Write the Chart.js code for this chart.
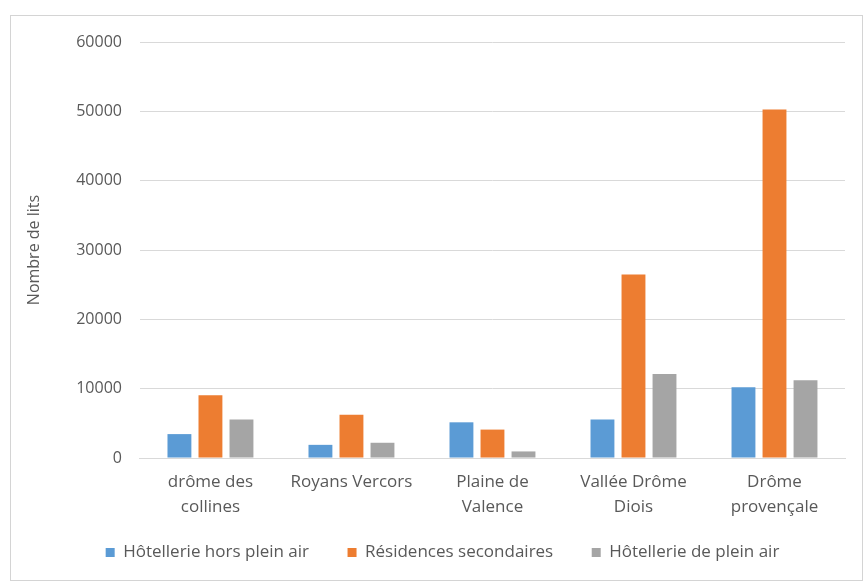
<!DOCTYPE html>
<html lang="fr">
<head>
<meta charset="utf-8">
<title>Nombre de lits touristiques</title>
<script src="https://cdn.jsdelivr.net/npm/chart.js@4/dist/chart.umd.min.js"></script>
<style>
    html, body {
        margin: 0;
        padding: 0;
        background: #ffffff;
        overflow: hidden;
    }
    .frame {
        position: absolute;
        left: 10px;
        top: 15px;
        width: 853px;
        height: 566px;
        box-sizing: border-box;
        border: 1px solid #d4d4d4;
    }
    #litsChart {
        position: absolute;
        left: 0;
        top: 0;
    }
</style>
</head>
<body>
<div class="frame"></div>
<canvas id="litsChart" width="868" height="583"></canvas>
<script>
const territoires = [
    ['drôme des', 'collines'],
    'Royans Vercors',
    ['Plaine de', 'Valence'],
    ['Vallée Drôme', 'Diois'],
    ['Drôme', 'provençale']
];
const hotellerieHorsPleinAir = [3450, 1900, 5150, 5550, 10200];
const residencesSecondaires = [9050, 6250, 4100, 26450, 50250];
const hotelleriePleinAir = [5550, 2200, 950, 12100, 11200];
const yTicks = [0, 10000, 20000, 30000, 40000, 50000, 60000];

const textColor = '#595959';
const gridColor = '#d9d9d9';
const fontFamily = "'Open Sans', 'Liberation Sans', sans-serif";

// nudge the legend row a bit to the right of the canvas centre
const legendShift = {
    id: 'legendShift',
    afterLayout(chart) {
        chart.legend.left += 20;
    }
};

document.addEventListener('DOMContentLoaded', function() {
    const ctx = document.getElementById('litsChart').getContext('2d');
    new Chart(ctx, {
        type: 'bar',
        data: {
            labels: territoires,
            datasets: [
                {
                    label: 'Hôtellerie hors plein air',
                    data: hotellerieHorsPleinAir,
                    backgroundColor: '#5b9bd5'
                },
                {
                    label: 'Résidences secondaires',
                    data: residencesSecondaires,
                    backgroundColor: '#ed7d31'
                },
                {
                    label: 'Hôtellerie de plein air',
                    data: hotelleriePleinAir,
                    backgroundColor: '#a5a5a5'
                }
            ]
        },
        options: {
            responsive: false,
            animation: false,
            categoryPercentage: 0.66,
            barPercentage: 0.77,
            layout: {
                padding: { left: 20, right: 23, top: 42, bottom: 12 }
            },
            plugins: {
                legend: {
                    position: 'bottom',
                    labels: {
                        color: textColor,
                        boxWidth: 9,
                        boxHeight: 9,
                        padding: 12,
                        font: { family: fontFamily, size: 17 },
                        generateLabels: function(chart) {
                            const items = Chart.defaults.plugins.legend.labels.generateLabels(chart);
                            // a little extra room between the legend entries
                            items.forEach((item, i) => {
                                if (i < items.length - 1) {
                                    item.text += '\u00a0'.repeat(6);
                                }
                            });
                            return items;
                        }
                    }
                },
                tooltip: { enabled: false }
            },
            scales: {
                x: {
                    grid: { display: false, drawTicks: false },
                    border: { color: gridColor, width: 1 },
                    ticks: {
                        color: textColor,
                        padding: 12,
                        maxRotation: 0,
                        font: { family: fontFamily, size: 17, lineHeight: 1.47 }
                    }
                },
                y: {
                    min: 0,
                    max: 60000,
                    afterBuildTicks: function(axis) {
                        axis.ticks = yTicks.map(v => ({ value: v }));
                    },
                    grid: {
                        color: gridColor,
                        drawTicks: false
                    },
                    border: { display: false },
                    ticks: {
                        color: textColor,
                        padding: 18,
                        font: { family: fontFamily, size: 16 },
                        callback: function(value) {
                            return String(value);
                        }
                    },
                    title: {
                        display: true,
                        text: 'Nombre de lits',
                        color: textColor,
                        padding: { top: 5, bottom: 14 },
                        font: { family: fontFamily, size: 16 }
                    }
                }
            }
        },
        plugins: [legendShift]
    });
});
</script>
</body>
</html>
